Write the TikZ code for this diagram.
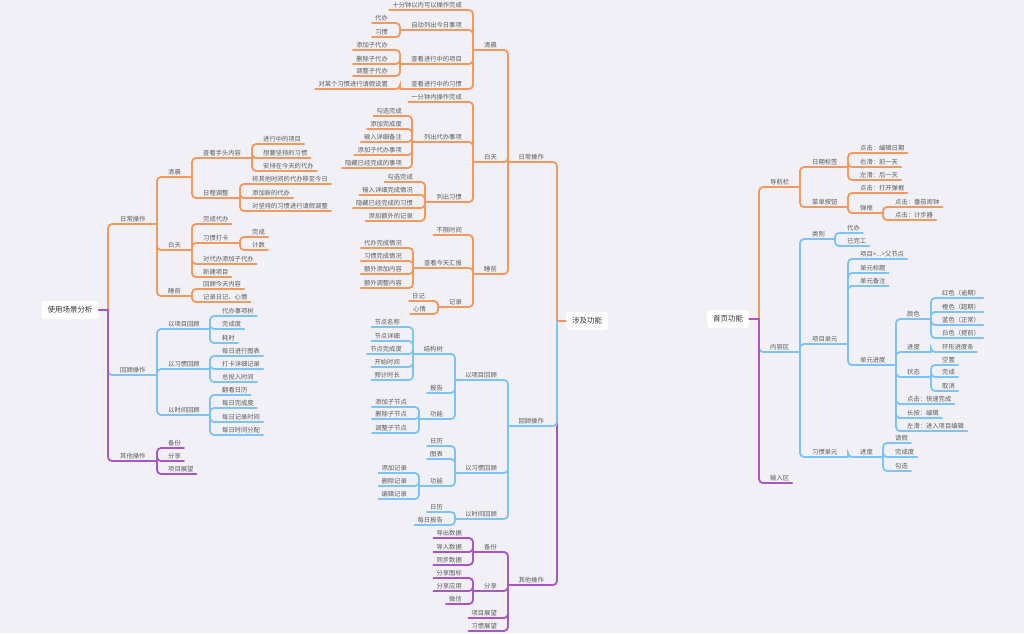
\documentclass[tikz,border=0pt]{standalone}
\usepackage{fontspec}
\setmainfont{Noto Sans CJK SC}
\definecolor{bgc}{RGB}{241,240,246}
\definecolor{corange}{RGB}{244,153,94}
\definecolor{cblue}{RGB}{124,196,245}
\definecolor{cpurple}{RGB}{168,85,198}
\definecolor{txtgray}{RGB}{90,90,90}
\definecolor{rootgray}{RGB}{50,50,50}
\begin{document}
\begin{tikzpicture}[x=1pt,y=-1pt,
  lbl/.style={font=\fontsize{6.3}{7}\selectfont, text=txtgray, inner xsep=3pt, inner ysep=1.3pt, text height=0.75em, text depth=0.13em},
  rt/.style={lbl, anchor=south west, xshift=-3pt},
  lt/.style={lbl, anchor=south east, xshift=3pt},
  root/.style={font=\fontsize{7.5}{9}\selectfont, text=rootgray, fill=white, rounded corners=3pt, inner xsep=6pt, inner ysep=0pt, minimum height=18pt},
  link/.style={line width=1.8pt, rounded corners=4pt, line cap=round},
  oc/.style={link, draw=corange},
  bc/.style={link, draw=cblue},
  pc/.style={link, draw=cpurple},
]
\useasboundingbox (0,0) rectangle (1024,633);
\fill[bgc] (0,0) rectangle (1024,633);

% ---------------- 使用场景分析 ----------------
\node[root] (rootL) at (70,310) {使用场景分析};
\coordinate (L-t) at (108,310);

\node[rt] (d1) at (120,224) {日常操作}; \coordinate (d1-t) at (157,224);
\node[rt] (d1a) at (168,177) {清晨}; \coordinate (d1a-t) at (192,177);
\node[rt] (d1a1) at (203,158) {查看手头内容}; \coordinate (d1a1-t) at (252,158);
\node[rt] (d1a1a) at (263,144) {进行中的项目};
\node[rt] (d1a1b) at (263,158) {想要坚持的习惯};
\node[rt] (d1a1c) at (263,171) {安排在今天的代办};
\node[rt] (d1a2) at (203,198) {日程调整}; \coordinate (d1a2-t) at (240,198);
\node[rt] (d1a2a) at (252,184) {将其他时间的代办移至今日};
\node[rt] (d1a2b) at (252,198) {添加新的代办};
\node[rt] (d1a2c) at (252,211) {对坚持的习惯进行请假调整};
\node[rt] (d1b) at (168,250) {白天}; \coordinate (d1b-t) at (192,250);
\node[rt] (d1b1) at (203,224) {完成代办};
\node[rt] (d1b2) at (203,243) {习惯打卡}; \coordinate (d1b2-t) at (240,243);
\node[rt] (d1b2a) at (252,237) {完成};
\node[rt] (d1b2b) at (252,250) {计数};
\node[rt] (d1b3) at (203,264) {对代办添加子代办};
\node[rt] (d1b4) at (203,277) {新建项目};
\node[rt] (d1c) at (168,296) {睡前}; \coordinate (d1c-t) at (192,296);
\node[rt] (d1c1) at (203,289) {回顾今天内容};
\node[rt] (d1c2) at (203,302) {记录日记、心情};

\node[rt] (h1) at (120,375) {回顾操作}; \coordinate (h1-t) at (157,375);
\node[rt] (h1a) at (168,329) {以项目回顾}; \coordinate (h1a-t) at (210,329);
\node[rt] (h1a1) at (222,316) {代办事项树};
\node[rt] (h1a2) at (222,329) {完成度};
\node[rt] (h1a3) at (222,343) {耗时};
\node[rt] (h1b) at (168,369) {以习惯回顾}; \coordinate (h1b-t) at (210,369);
\node[rt] (h1b1) at (222,356) {每日进行图表};
\node[rt] (h1b2) at (222,369) {打卡详细记录};
\node[rt] (h1b3) at (222,382) {总投入时间};
\node[rt] (h1c) at (168,415) {以时间回顾}; \coordinate (h1c-t) at (210,415);
\node[rt] (h1c1) at (222,395) {翻看日历};
\node[rt] (h1c2) at (222,408) {每日完成度};
\node[rt] (h1c3) at (222,422) {每日记录时间};
\node[rt] (h1c4) at (222,435) {每日时间分配};

\node[rt] (q1) at (120,461) {其他操作}; \coordinate (q1-t) at (157,461);
\node[rt] (q1a) at (168,448) {备份};
\node[rt] (q1b) at (168,461) {分享};
\node[rt] (q1c) at (168,474) {项目展望};

% orange branch
\draw[oc] (L-t) |- (d1-t);
\draw[oc] (d1-t) |- (d1a-t);
\draw[oc] (d1-t) |- (d1b-t);
\draw[oc] (d1-t) |- (d1c-t);
\draw[oc] (d1a-t) |- (d1a1-t);
\draw[oc] (d1a-t) |- (d1a2-t);
\foreach \c in {d1a1a,d1a1b,d1a1c} \draw[oc] (d1a1-t) |- (\c.south east);
\foreach \c in {d1a2a,d1a2b,d1a2c} \draw[oc] (d1a2-t) |- (\c.south east);
\foreach \c in {d1b1,d1b3,d1b4} \draw[oc] (d1b-t) |- (\c.south east);
\draw[oc] (d1b-t) |- (d1b2-t);
\foreach \c in {d1b2a,d1b2b} \draw[oc] (d1b2-t) |- (\c.south east);
\foreach \c in {d1c1,d1c2} \draw[oc] (d1c-t) |- (\c.south east);
% blue branch
\draw[bc] (L-t) |- (h1-t);
\foreach \c in {h1a,h1b,h1c} \draw[bc] (h1-t) |- (\c-t);
\foreach \c in {h1a1,h1a2,h1a3} \draw[bc] (h1a-t) |- (\c.south east);
\foreach \c in {h1b1,h1b2,h1b3} \draw[bc] (h1b-t) |- (\c.south east);
\foreach \c in {h1c1,h1c2,h1c3,h1c4} \draw[bc] (h1c-t) |- (\c.south east);
% purple branch
\draw[pc] (rootL.east) -- (L-t);
\draw[pc] (L-t) |- (q1-t);
\foreach \c in {q1a,q1b,q1c} \draw[pc] (q1-t) |- (\c.south east);

% ---------------- 涉及功能 ----------------
\node[root] (rootM) at (587,321) {涉及功能};
\coordinate (M-t) at (557,321);

\node[lt] (m1) at (544,162) {日常操作}; \coordinate (m1-t) at (508,162);
\node[lt] (m1a) at (497,50) {清晨}; \coordinate (m1a-t) at (473,50);
\node[lt] (m1a1) at (462,10) {十分钟以内可以操作完成};
\node[lt] (m1a2) at (462,30) {自动列出今日事项}; \coordinate (m1a2-t) at (400,30);
\node[lt] (m1a2a) at (388,23) {代办};
\node[lt] (m1a2b) at (388,37) {习惯};
\node[lt] (m1a3) at (462,64) {查看进行中的项目}; \coordinate (m1a3-t) at (400,64);
\node[lt] (m1a3a) at (388,50) {添加子代办};
\node[lt] (m1a3b) at (388,64) {删除子代办};
\node[lt] (m1a3c) at (388,76) {调整子代办};
\node[lt] (m1a4) at (462,89) {查看进行中的习惯}; \coordinate (m1a4-t) at (400,89);
\node[lt] (m1a4a) at (388,89) {对某个习惯进行请假设置};
\node[lt] (m1b) at (497,162) {白天}; \coordinate (m1b-t) at (473,162);
\node[lt] (m1b1) at (462,102) {一分钟内操作完成};
\node[lt] (m1b2) at (462,142) {列出代办事项}; \coordinate (m1b2-t) at (412,142);
\node[lt] (m1b2a) at (402,116) {勾选完成};
\node[lt] (m1b2b) at (402,129) {添加完成度};
\node[lt] (m1b2c) at (402,142) {输入详细备注};
\node[lt] (m1b2d) at (402,155) {添加子代办事项};
\node[lt] (m1b2e) at (402,168) {隐藏已经完成的事项};
\node[lt] (m1b3) at (462,202) {列出习惯}; \coordinate (m1b3-t) at (425,202);
\node[lt] (m1b3a) at (413,182) {勾选完成};
\node[lt] (m1b3b) at (413,195) {输入详细完成情况};
\node[lt] (m1b3c) at (413,208) {隐藏已经完成的习惯};
\node[lt] (m1b3d) at (413,221) {添加额外的记录};
\node[lt] (m1c) at (497,274) {睡前}; \coordinate (m1c-t) at (473,274);
\node[lt] (m1c1) at (462,235) {不限时间};
\node[lt] (m1c2) at (462,268) {查看今天汇报}; \coordinate (m1c2-t) at (413,268);
\node[lt] (m1c2a) at (402,248) {代办完成情况};
\node[lt] (m1c2b) at (402,261) {习惯完成情况};
\node[lt] (m1c2c) at (402,274) {额外添加内容};
\node[lt] (m1c2d) at (402,288) {额外调整内容};
\node[lt] (m1c3) at (462,307) {记录}; \coordinate (m1c3-t) at (438,307);
\node[lt] (m1c3a) at (425,301) {日记};
\node[lt] (m1c3b) at (426,314) {心情};

\node[lt] (m2) at (544,426) {回顾操作}; \coordinate (m2-t) at (508,426);
\node[lt] (m2a) at (497,380) {以项目回顾}; \coordinate (m2a-t) at (455,380);
\node[lt] (m2a1) at (443,354) {结构树}; \coordinate (m2a1-t) at (413,354);
\node[lt] (m2a1a) at (400,327) {节点名称};
\node[lt] (m2a1b) at (400,341) {节点详细};
\node[lt] (m2a1c) at (402,354) {节点完成度};
\node[lt] (m2a1d) at (400,367) {开始时间};
\node[lt] (m2a1e) at (400,380) {预计时长};
\node[lt] (m2a2) at (443,393) {报告};
\node[lt] (m2a3) at (443,419) {功能}; \coordinate (m2a3-t) at (419,419);
\node[lt] (m2a3a) at (407,407) {添加子节点};
\node[lt] (m2a3b) at (407,419) {删除子节点};
\node[lt] (m2a3c) at (407,433) {调整子节点};
\node[lt] (m2b) at (497,473) {以习惯回顾}; \coordinate (m2b-t) at (455,473);
\node[lt] (m2b1) at (443,446) {日历};
\node[lt] (m2b2) at (443,459) {图表};
\node[lt] (m2b3) at (443,486) {功能}; \coordinate (m2b3-t) at (419,486);
\node[lt] (m2b3a) at (407,473) {添加记录};
\node[lt] (m2b3b) at (407,486) {删除记录};
\node[lt] (m2b3c) at (407,499) {编辑记录};
\node[lt] (m2c) at (497,519) {以时间回顾}; \coordinate (m2c-t) at (455,519);
\node[lt] (m2c1) at (443,512) {日历};
\node[lt] (m2c2) at (443,525) {每日报告};

\node[lt] (m3) at (544,585) {其他操作}; \coordinate (m3-t) at (508,585);
\node[lt] (m3a) at (497,552) {备份}; \coordinate (m3a-t) at (473,552);
\node[lt] (m3a1) at (462,538) {导出数据};
\node[lt] (m3a2) at (462,552) {导入数据};
\node[lt] (m3a3) at (462,565) {同步数据};
\node[lt] (m3b) at (497,591) {分享}; \coordinate (m3b-t) at (473,591);
\node[lt] (m3b1) at (462,578) {分享图标};
\node[lt] (m3b2) at (462,591) {分享应用};
\node[lt] (m3b3) at (462,604) {微信};
\node[lt] (m3c) at (497,618) {项目展望};
\node[lt] (m3d) at (497,631) {习惯展望};

% orange branch
\draw[oc] (rootM.west) -- (M-t);
\draw[oc] (M-t) |- (m1-t);
\foreach \c in {m1a,m1b,m1c} \draw[oc] (m1-t) |- (\c-t);
\draw[oc] (m1a-t) |- (m1a1.south west);
\foreach \c in {m1a2,m1a3,m1a4} \draw[oc] (m1a-t) |- (\c-t);
\foreach \c in {m1a2a,m1a2b} \draw[oc] (m1a2-t) |- (\c.south west);
\foreach \c in {m1a3a,m1a3b,m1a3c} \draw[oc] (m1a3-t) |- (\c.south west);
\draw[oc] (m1a4-t) |- (m1a4a.south west);
\draw[oc] (m1b-t) |- (m1b1.south west);
\foreach \c in {m1b2,m1b3} \draw[oc] (m1b-t) |- (\c-t);
\foreach \c in {m1b2a,m1b2b,m1b2c,m1b2d,m1b2e} \draw[oc] (m1b2-t) |- (\c.south west);
\foreach \c in {m1b3a,m1b3b,m1b3c,m1b3d} \draw[oc] (m1b3-t) |- (\c.south west);
\draw[oc] (m1c-t) |- (m1c1.south west);
\foreach \c in {m1c2,m1c3} \draw[oc] (m1c-t) |- (\c-t);
\foreach \c in {m1c2a,m1c2b,m1c2c,m1c2d} \draw[oc] (m1c2-t) |- (\c.south west);
\foreach \c in {m1c3a,m1c3b} \draw[oc] (m1c3-t) |- (\c.south west);
% purple branch
\draw[pc] (M-t) |- (m3-t);
\foreach \c in {m3a,m3b} \draw[pc] (m3-t) |- (\c-t);
\foreach \c in {m3c,m3d} \draw[pc] (m3-t) |- (\c.south west);
\foreach \c in {m3a1,m3a2,m3a3} \draw[pc] (m3a-t) |- (\c.south west);
\foreach \c in {m3b1,m3b2,m3b3} \draw[pc] (m3b-t) |- (\c.south west);
% blue branch
\draw[bc] (M-t) |- (m2-t);
\foreach \c in {m2a,m2b,m2c} \draw[bc] (m2-t) |- (\c-t);
\foreach \c in {m2a1,m2a3} \draw[bc] (m2a-t) |- (\c-t);
\draw[bc] (m2a-t) |- (m2a2.south west);
\foreach \c in {m2a1a,m2a1b,m2a1c,m2a1d,m2a1e} \draw[bc] (m2a1-t) |- (\c.south west);
\foreach \c in {m2a3a,m2a3b,m2a3c} \draw[bc] (m2a3-t) |- (\c.south west);
\foreach \c in {m2b1,m2b2} \draw[bc] (m2b-t) |- (\c.south west);
\draw[bc] (m2b-t) |- (m2b3-t);
\foreach \c in {m2b3a,m2b3b,m2b3c} \draw[bc] (m2b3-t) |- (\c.south west);
\foreach \c in {m2c1,m2c2} \draw[bc] (m2c-t) |- (\c.south west);

% ---------------- 首页功能 ----------------
\node[root] (rootR) at (728,319) {首页功能};
\coordinate (R-t) at (759,319);

\node[rt] (r1) at (770,187) {导航栏}; \coordinate (r1-t) at (800,187);
\node[rt] (r1a) at (812,167) {日期标签}; \coordinate (r1a-t) at (848,167);
\node[rt] (r1a1) at (860,153) {点击：编辑日期};
\node[rt] (r1a2) at (860,167) {右滑：前一天};
\node[rt] (r1a3) at (860,180) {左滑：后一天};
\node[rt] (r1b) at (812,207) {菜单按钮}; \coordinate (r1b-t) at (848,207);
\node[rt] (r1b1) at (860,193) {点击：打开弹框};
\node[rt] (r1b2) at (860,213) {弹框}; \coordinate (r1b2-t) at (883,213);
\node[rt] (r1b2a) at (895,207) {点击：番茄闹钟};
\node[rt] (r1b2b) at (895,220) {点击：计步器};

\node[rt] (r2) at (770,352) {内容区}; \coordinate (r2-t) at (800,352);
\node[rt] (r2a) at (812,239) {类别}; \coordinate (r2a-t) at (835,239);
\node[rt] (r2a1) at (847,233) {代办};
\node[rt] (r2a2) at (847,246) {已完工};
\node[rt] (r2b) at (812,344) {项目单元}; \coordinate (r2b-t) at (848,344);
\node[rt] (r2b1) at (860,259) {项目>...>父节点};
\node[rt] (r2b2) at (860,273) {单元标题};
\node[rt] (r2b3) at (860,286) {单元备注};
\node[rt] (r2b4) at (860,365) {单元进度}; \coordinate (r2b4-t) at (896,365);
\node[rt] (r2b4a) at (907,319) {颜色}; \coordinate (r2b4a-t) at (931,319);
\node[rt] (r2b4a1) at (942,298) {红色（逾期）};
\node[rt] (r2b4a2) at (942,312) {橙色（超期）};
\node[rt] (r2b4a3) at (942,325) {蓝色（正常）};
\node[rt] (r2b4a4) at (942,338) {白色（提前）};
\node[rt] (r2b4b) at (907,352) {进度}; \coordinate (r2b4b-t) at (931,352);
\node[rt] (r2b4b1) at (942,352) {环形进度条};
\node[rt] (r2b4c) at (907,377) {状态}; \coordinate (r2b4c-t) at (931,377);
\node[rt] (r2b4c1) at (942,365) {空置};
\node[rt] (r2b4c2) at (942,377) {完成};
\node[rt] (r2b4c3) at (942,391) {取消};
\node[rt] (r2b4d) at (907,404) {点击：快速完成};
\node[rt] (r2b4e) at (907,418) {长按：编辑};
\node[rt] (r2b4f) at (907,431) {左滑：进入项目编辑};
\node[rt] (r2c) at (812,457) {习惯单元}; \coordinate (r2c-t) at (848,457);
\node[rt] (r2c1) at (860,457) {进度}; \coordinate (r2c1-t) at (883,457);
\node[rt] (r2c1a) at (895,443) {请假};
\node[rt] (r2c1b) at (895,457) {完成度};
\node[rt] (r2c1c) at (895,471) {勾选};

\node[rt] (r3) at (770,483) {输入区};

% orange branch
\draw[oc] (R-t) |- (r1-t);
\foreach \c in {r1a,r1b} \draw[oc] (r1-t) |- (\c-t);
\foreach \c in {r1a1,r1a2,r1a3} \draw[oc] (r1a-t) |- (\c.south east);
\draw[oc] (r1b-t) |- (r1b1.south east);
\draw[oc] (r1b-t) |- (r1b2-t);
\foreach \c in {r1b2a,r1b2b} \draw[oc] (r1b2-t) |- (\c.south east);
% blue branch
\draw[bc] (R-t) |- (r2-t);
\foreach \c in {r2a,r2b,r2c} \draw[bc] (r2-t) |- (\c-t);
\foreach \c in {r2a1,r2a2} \draw[bc] (r2a-t) |- (\c.south east);
\foreach \c in {r2b1,r2b2,r2b3} \draw[bc] (r2b-t) |- (\c.south east);
\draw[bc] (r2b-t) |- (r2b4-t);
\foreach \c in {r2b4a,r2b4b,r2b4c} \draw[bc] (r2b4-t) |- (\c-t);
\foreach \c in {r2b4d,r2b4e,r2b4f} \draw[bc] (r2b4-t) |- (\c.south east);
\foreach \c in {r2b4a1,r2b4a2,r2b4a3,r2b4a4} \draw[bc] (r2b4a-t) |- (\c.south east);
\draw[bc] (r2b4b-t) |- (r2b4b1.south east);
\foreach \c in {r2b4c1,r2b4c2,r2b4c3} \draw[bc] (r2b4c-t) |- (\c.south east);
\draw[bc] (r2c-t) |- (r2c1-t);
\foreach \c in {r2c1a,r2c1b,r2c1c} \draw[bc] (r2c1-t) |- (\c.south east);
% purple branch
\draw[pc] (rootR.east) -- (R-t);
\draw[pc] (R-t) |- (r3.south east);

\end{tikzpicture}
\end{document}
